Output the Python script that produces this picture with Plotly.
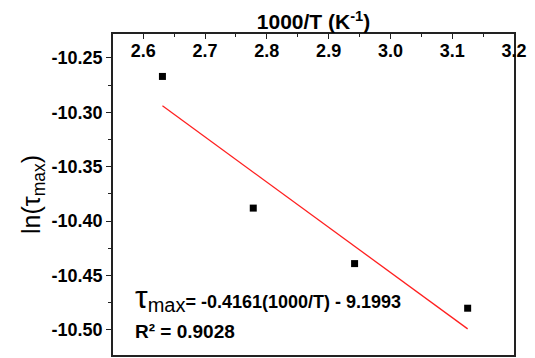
import plotly.graph_objects as go

inv_T = [2.631, 2.778, 2.942, 3.125]
ln_tau = [-10.267, -10.388, -10.439, -10.480]
fit_x = [2.631, 3.125]
fit_y = [-10.294, -10.499]

x_tickvals = [2.6, 2.7, 2.8, 2.9, 3.0, 3.1, 3.2]
x_ticktext = ["2.6", "2.7", "2.8", "2.9", "3.0", "3.1", "3.2"]
y_tickvals = [-10.25, -10.30, -10.35, -10.40, -10.45, -10.50]
y_ticktext = ["-10.25", "-10.30", "-10.35", "-10.40", "-10.45", "-10.50"]

FONT = "Arial, Liberation Sans, sans-serif"

fig = go.Figure()
fig.add_trace(go.Scatter(x=fit_x, y=fit_y, mode="lines",
                         line=dict(color="#ff2020", width=1.3), showlegend=False))
fig.add_trace(go.Scatter(x=inv_T, y=ln_tau, mode="markers",
                         marker=dict(symbol="square", size=7, color="black"),
                         showlegend=False))

fig.update_layout(
    width=535, height=358,
    margin=dict(l=113, r=21, t=34, b=1),
    paper_bgcolor="white", plot_bgcolor="white",
    font=dict(family=FONT, color="black"),
    xaxis=dict(
        side="top", range=[2.551, 3.2],
        tickvals=x_tickvals, ticktext=x_ticktext,
        ticks="inside", ticklen=5, tickwidth=1.3, tickcolor="#222",
        ticklabelposition="inside", ticklabeloverflow="allow", ticklabelstandoff=6,
        minor=dict(ticks="inside", dtick=0.05, tick0=2.6, ticklen=3, tickwidth=1.2, tickcolor="#222"),
        showline=True, linecolor="#222", linewidth=1.6, mirror=True,
        showgrid=False, zeroline=False,
        tickfont=dict(family=FONT, size=18, color="black", weight="bold"),
        title=dict(text="<b>1000/T (K<sup>-1</sup>)</b>", standoff=5,
                   font=dict(family=FONT, size=21, color="black")),
    ),
    yaxis=dict(
        range=[-10.523, -10.228],
        tickvals=y_tickvals, ticktext=y_ticktext,
        ticks="outside", ticklen=5, tickwidth=1.3, tickcolor="#222",
        minor=dict(ticks="outside", dtick=0.025, tick0=-10.5, ticklen=3, tickwidth=1.2, tickcolor="#222"),
        showline=True, linecolor="#222", linewidth=1.6, mirror=True,
        showgrid=False, zeroline=False,
        tickfont=dict(family=FONT, size=18, color="black", weight="bold"),
        title=dict(text="ln(τ<sub>max</sub>)", standoff=4,
                   font=dict(family=FONT, size=25, color="black")),
    ),
)

fig.add_annotation(
    xref="paper", yref="paper", x=0.05, y=0.18, xanchor="left", yanchor="middle",
    showarrow=False,
    text="<span style='font-size:32px'>τ</span><sub><span style='font-size:20px'>max</span></sub><b>= -0.4161(1000/T) - 9.1993</b>",
    font=dict(family=FONT, size=18, color="black"),
)
fig.add_annotation(
    xref="paper", yref="paper", x=0.05, y=0.072, xanchor="left", yanchor="middle",
    showarrow=False, text="<b>R² = 0.9028</b>",
    font=dict(family=FONT, size=19, color="black"),
)

fig.write_html("out.html")
